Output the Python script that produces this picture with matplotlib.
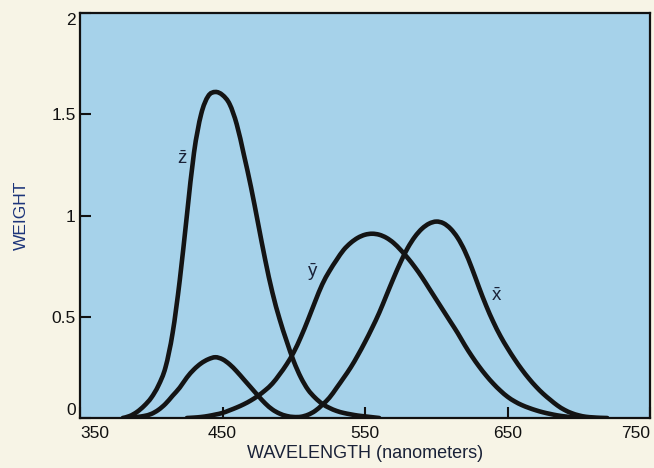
import matplotlib
matplotlib.use('Agg')
import matplotlib.pyplot as plt
from matplotlib.path import Path
from matplotlib.patches import PathPatch
import numpy as np

plt.rcParams['font.family'] = ['Liberation Sans', 'DejaVu Sans']
plt.rcParams['mathtext.fontset'] = 'custom'
plt.rcParams['mathtext.rm'] = 'Liberation Sans'

# funciones de igualación de color (cada 5 nm)
z_nm = [380, 385, 390, 395, 400, 405, 410, 415, 420, 425, 430, 435, 440, 445,
        450, 455, 460, 465, 470, 475, 480, 485, 490, 495, 500, 505, 510, 515,
        520, 525, 530, 535, 540, 545, 550, 555, 560]
z_val = [0.00, 0.01, 0.03, 0.06, 0.10, 0.16, 0.25, 0.42, 0.68, 1.00, 1.31, 1.50,
         1.59, 1.61, 1.595, 1.55, 1.45, 1.30, 1.14, 0.96, 0.78, 0.62, 0.49, 0.38,
         0.28, 0.20, 0.14, 0.10, 0.07, 0.05, 0.035, 0.025, 0.018, 0.012, 0.008,
         0.004, 0.0]

y_nm = [425, 430, 435, 440, 445, 450, 455, 460, 465, 470, 475, 480, 485, 490,
        495, 500, 505, 510, 515, 520, 525, 530, 535, 540, 545, 550, 555, 560,
        565, 570, 575, 580, 585, 590, 595, 600, 605, 610, 615, 620, 625, 630,
        635, 640, 645, 650, 655, 660, 665, 670, 675, 680, 685, 690, 695, 700]
y_val = [0.0, 0.002, 0.005, 0.01, 0.017, 0.025, 0.038, 0.052, 0.068, 0.087, 0.11,
         0.137, 0.17, 0.215, 0.265, 0.325, 0.40, 0.485, 0.575, 0.66, 0.725, 0.78,
         0.83, 0.865, 0.89, 0.905, 0.91, 0.905, 0.89, 0.865, 0.83, 0.79, 0.745,
         0.695, 0.64, 0.585, 0.53, 0.475, 0.42, 0.36, 0.305, 0.255, 0.21, 0.17,
         0.135, 0.105, 0.082, 0.064, 0.05, 0.038, 0.028, 0.02, 0.013, 0.008,
         0.004, 0.0]

x_nm = [385, 390, 395, 400, 405, 410, 415, 420, 425, 430, 435, 440, 445, 450,
        455, 460, 465, 470, 475, 480, 485, 490, 495, 500, 505, 510, 515, 520,
        525, 530, 535, 540, 545, 550, 555, 560, 565, 570, 575, 580, 585, 590,
        595, 600, 605, 610, 615, 620, 625, 630, 635, 640, 645, 650, 655, 660,
        665, 670, 675, 680, 685, 690, 695, 700, 705, 710, 715, 720]
x_val = [0.0, 0.005, 0.01, 0.02, 0.04, 0.07, 0.11, 0.15, 0.20, 0.24, 0.27,
         0.29, 0.30, 0.29, 0.265, 0.23, 0.19, 0.15, 0.11, 0.072, 0.042, 0.022,
         0.01, 0.005, 0.006, 0.016, 0.035, 0.065, 0.10, 0.148, 0.198, 0.25,
         0.31, 0.375, 0.445, 0.52, 0.605, 0.69, 0.77, 0.84, 0.895, 0.935, 0.96,
         0.97, 0.962, 0.935, 0.89, 0.825, 0.74, 0.645, 0.555, 0.475, 0.405,
         0.345, 0.29, 0.24, 0.195, 0.155, 0.12, 0.09, 0.062, 0.04, 0.024, 0.013,
         0.006, 0.003, 0.001, 0.0]

x_ticks = [350, 450, 550, 650, 750]
y_ticks = [0, 0.5, 1, 1.5, 2]
y_labels = ['0', '0.5', '1', '1.5', '2']


def curva_suave(nm, val):
    # Catmull-Rom convertido a curvas de Bézier cúbicas
    p = np.column_stack([nm, val]).astype(float)
    p = np.vstack([p[0], p, p[-1]])
    verts = [p[1]]
    codes = [Path.MOVETO]
    for i in range(1, len(p) - 2):
        c1 = p[i] + (p[i + 1] - p[i - 1]) / 6
        c2 = p[i + 1] - (p[i + 2] - p[i]) / 6
        verts += [c1, c2, p[i + 1]]
        codes += [Path.CURVE4] * 3
    return Path(verts, codes)


fig = plt.figure(figsize=(6.54, 4.68), dpi=100, facecolor='#f7f4e6')
ax = fig.add_axes([80 / 654, 50 / 468, 570 / 654, 405 / 468])
ax.set_facecolor('#a6d2ea')

color_linea = '#141414'
for nm, val in [(z_nm, z_val), (y_nm, y_val), (x_nm, x_val)]:
    ax.add_patch(PathPatch(curva_suave(nm, val), fill=False,
                           edgecolor=color_linea, lw=3.3, capstyle='round'))

ax.set_xlim(350, 750)
ax.set_ylim(0, 2.0)

ax.set_xticks(x_ticks)
ax.set_xticklabels([str(t) for t in x_ticks])
ax.set_yticks(y_ticks)
ax.set_yticklabels(y_labels)
ax.tick_params(direction='in', length=8, width=1.5, labelsize=12.5,
               colors='#111111')
ax.tick_params(axis='y', pad=3)
ax.tick_params(axis='x', pad=6)

# alinear etiquetas extremas como en la figura
xl = ax.get_xticklabels()
xl[0].set_horizontalalignment('left')
xl[-1].set_horizontalalignment('right')
yl = ax.get_yticklabels()
yl[0].set_verticalalignment('bottom')
yl[-1].set_verticalalignment('top')

for s in ax.spines.values():
    s.set_linewidth(1.6)
    s.set_color('#111111')

ax.set_xlabel('WAVELENGTH (nanometers)', fontsize=13, color='#1a2238',
              labelpad=3)
ax.set_ylabel('WEIGHT', fontsize=12.5, color='#1c347a', labelpad=16)

ax.text(421.5, 1.28, r'$\bar{\mathrm{z}}$', fontsize=13.5, color='#1a2238',
        ha='center', va='center')
ax.text(513.5, 0.72, r'$\bar{\mathrm{y}}$', fontsize=13.5, color='#1a2238',
        ha='center', va='center')
ax.text(642, 0.60, r'$\bar{\mathrm{x}}$', fontsize=13.5, color='#1a2238',
        ha='center', va='center')

fig.savefig('out.png', dpi=100, facecolor=fig.get_facecolor())
